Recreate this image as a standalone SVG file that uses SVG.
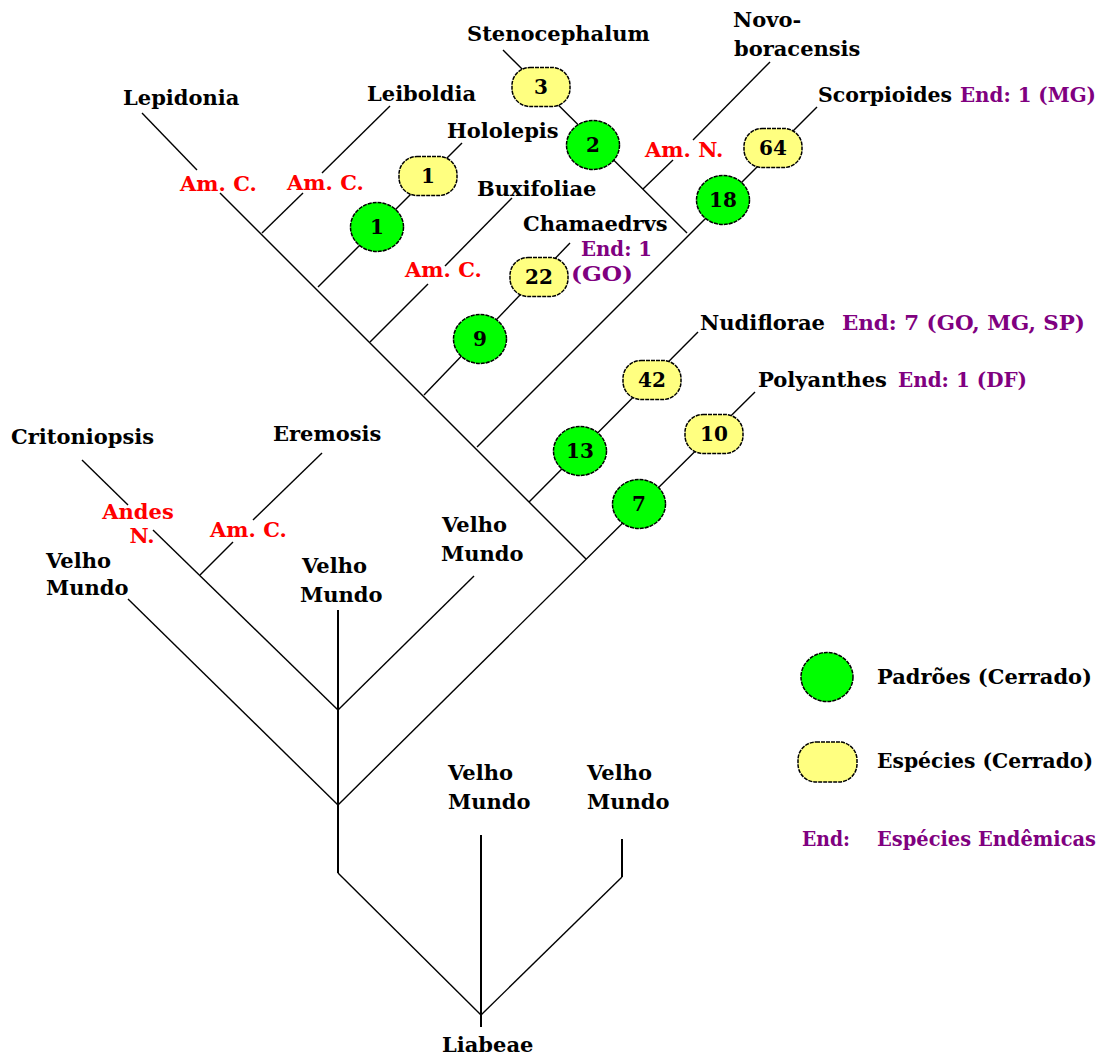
<svg xmlns="http://www.w3.org/2000/svg" width="1104" height="1055" viewBox="0 0 1104 1055">
<style>
.t{font-family:"DejaVu Serif","Liberation Serif",serif;font-weight:bold;font-size:21px;fill:#000}
.r{fill:#FF0000}
.p{fill:#800080}
.n{font-size:20px;text-anchor:middle}
.g{fill:#00FF00;stroke:#000;stroke-width:1.5;stroke-dasharray:4 1}
.y{fill:#FFFF80;stroke:#000;stroke-width:1.5;stroke-dasharray:4 1}
#connectors line,#connectors polyline{stroke:#000;stroke-width:1.4;fill:none}
#connectors .v{stroke-width:2}
</style>
<rect width="1104" height="1055" fill="#fff"/>
<g id="connectors">
<line x1="142" y1="113" x2="197" y2="170"/>
<line x1="220" y1="193" x2="586" y2="559"/>
<line x1="262" y1="233" x2="303" y2="193"/>
<line x1="322" y1="173" x2="390" y2="106"/>
<line x1="318" y1="287" x2="462" y2="143"/>
<line x1="370" y1="342" x2="428" y2="284"/>
<line x1="445" y1="266" x2="512" y2="198"/>
<line x1="424" y1="395" x2="570" y2="243"/>
<line x1="477" y1="447" x2="817" y2="107"/>
<line x1="687" y1="233" x2="503" y2="50"/>
<line x1="643" y1="189" x2="673" y2="160"/>
<line x1="693" y1="140" x2="770" y2="62"/>
<line x1="529" y1="502" x2="698" y2="332"/>
<line x1="338" y1="805" x2="755" y2="392"/>
<line x1="82" y1="460" x2="128" y2="505"/>
<line x1="153" y1="530" x2="338" y2="710"/>
<line x1="322" y1="453" x2="253" y2="520"/>
<line x1="233" y1="542" x2="200" y2="575"/>
<line x1="128" y1="599" x2="338" y2="805"/>
<line class="v" x1="338" y1="610" x2="338" y2="873"/>
<line x1="474" y1="576" x2="338" y2="710"/>
<line x1="338" y1="873" x2="481" y2="1015"/>
<line class="v" x1="481" y1="835" x2="481" y2="1027"/>
<polyline class="v" points="622,839 622,877"/>
<line x1="622" y1="877" x2="481" y2="1015"/>
</g>
<g id="node-y3"><rect class="y" x="512" y="67.5" width="58" height="39" rx="18"/><text class="t n" x="541" y="94">3</text></g>
<g id="node-g2"><ellipse class="g" cx="593" cy="145" rx="26.5" ry="24.5"/><text class="t n" x="593" y="152">2</text></g>
<g id="node-y1"><rect class="y" x="399" y="156.5" width="58" height="39" rx="18"/><text class="t n" x="428" y="183">1</text></g>
<g id="node-g1"><ellipse class="g" cx="377" cy="227" rx="26.5" ry="24.5"/><text class="t n" x="377" y="234">1</text></g>
<g id="node-y22"><rect class="y" x="510" y="257.5" width="58" height="39" rx="18"/><text class="t n" x="539" y="284">22</text></g>
<g id="node-g9"><ellipse class="g" cx="480" cy="339" rx="26.5" ry="24.5"/><text class="t n" x="480" y="346">9</text></g>
<g id="node-y64"><rect class="y" x="744" y="128.5" width="58" height="39" rx="18"/><text class="t n" x="773" y="155">64</text></g>
<g id="node-g18"><ellipse class="g" cx="723" cy="200" rx="26.5" ry="24.5"/><text class="t n" x="723" y="207">18</text></g>
<g id="node-y42"><rect class="y" x="623" y="360.5" width="58" height="39" rx="18"/><text class="t n" x="652" y="387">42</text></g>
<g id="node-g13"><ellipse class="g" cx="580" cy="451" rx="26.5" ry="24.5"/><text class="t n" x="580" y="458">13</text></g>
<g id="node-y10"><rect class="y" x="685" y="414.5" width="58" height="39" rx="18"/><text class="t n" x="714" y="441">10</text></g>
<g id="node-g7"><ellipse class="g" cx="639" cy="504" rx="26.5" ry="24.5"/><text class="t n" x="639" y="511">7</text></g>
<g id="labels">
<g id="lbl-lepidonia"><text class="t" x="123" y="105">Lepidonia</text></g>
<g id="lbl-leiboldia"><text class="t" x="367" y="101">Leiboldia</text></g>
<g id="lbl-hololepis"><text class="t" x="447" y="138">Hololepis</text></g>
<g id="lbl-steno"><text class="t" x="467" y="41">Stenocephalum</text></g>
<g id="lbl-novo"><text class="t" x="733" y="27">Novo-</text><text class="t" x="734" y="56">boracensis</text></g>
<g id="lbl-buxi"><text class="t" x="477" y="196">Buxifoliae</text></g>
<g id="lbl-chama"><text class="t" x="523" y="231">Chamaedrvs</text><text class="t p" x="581" y="256" textLength="71" lengthAdjust="spacingAndGlyphs">End: 1</text><text class="t p" x="571" y="281" textLength="62" lengthAdjust="spacingAndGlyphs">(GO)</text></g>
<g id="lbl-scorp"><text class="t" x="818" y="102" textLength="134" lengthAdjust="spacingAndGlyphs">Scorpioides</text><text class="t p" x="960" y="102" textLength="136" lengthAdjust="spacingAndGlyphs">End: 1 (MG)</text></g>
<g id="lbl-nudi"><text class="t" x="700" y="330" textLength="125" lengthAdjust="spacingAndGlyphs">Nudiflorae</text><text class="t p" x="842" y="330" textLength="243" lengthAdjust="spacingAndGlyphs">End: 7 (GO, MG, SP)</text></g>
<g id="lbl-poly"><text class="t" x="758" y="387" textLength="129" lengthAdjust="spacingAndGlyphs">Polyanthes</text><text class="t p" x="898" y="387" textLength="129" lengthAdjust="spacingAndGlyphs">End: 1 (DF)</text></g>
<g id="lbl-crit"><text class="t" x="11" y="444">Critoniopsis</text></g>
<g id="lbl-erem"><text class="t" x="273" y="441">Eremosis</text></g>
<g id="lbl-vm1"><text class="t" x="46" y="568">Velho</text><text class="t" x="46" y="595">Mundo</text></g>
<g id="lbl-vm2"><text class="t" x="302" y="573">Velho</text><text class="t" x="300" y="602">Mundo</text></g>
<g id="lbl-vm3"><text class="t" x="442" y="532">Velho</text><text class="t" x="441" y="561">Mundo</text></g>
<g id="lbl-vm4"><text class="t" x="448" y="780">Velho</text><text class="t" x="448" y="809">Mundo</text></g>
<g id="lbl-vm5"><text class="t" x="587" y="780">Velho</text><text class="t" x="587" y="809">Mundo</text></g>
<g id="lbl-liabeae"><text class="t" x="442" y="1052">Liabeae</text></g>
<g id="lbl-red">
<text class="t r" x="180" y="191">Am. C.</text>
<text class="t r" x="287" y="190">Am. C.</text>
<text class="t r" x="405" y="277">Am. C.</text>
<text class="t r" x="645" y="157">Am. N.</text>
<text class="t r" x="210" y="537">Am. C.</text>
<text class="t r" x="138" y="519" text-anchor="middle">Andes</text>
<text class="t r" x="142" y="543" text-anchor="middle">N.</text>
</g>
</g>
<g id="legend">
<g id="legend-g"><ellipse class="g" cx="827" cy="677" rx="26" ry="24.5"/><text class="t" x="877" y="684" textLength="215" lengthAdjust="spacingAndGlyphs">Padrões (Cerrado)</text></g>
<g id="legend-y"><rect class="y" x="798" y="742" width="59" height="40" rx="18"/><text class="t" x="877" y="768" textLength="216" lengthAdjust="spacingAndGlyphs">Espécies (Cerrado)</text></g>
<g id="legend-end"><text class="t p" x="802" y="846" textLength="48" lengthAdjust="spacingAndGlyphs">End:</text><text class="t p" x="877" y="846" style="font-size:19.5px" textLength="219" lengthAdjust="spacingAndGlyphs">Espécies Endêmicas</text></g>
</g>
</svg>
